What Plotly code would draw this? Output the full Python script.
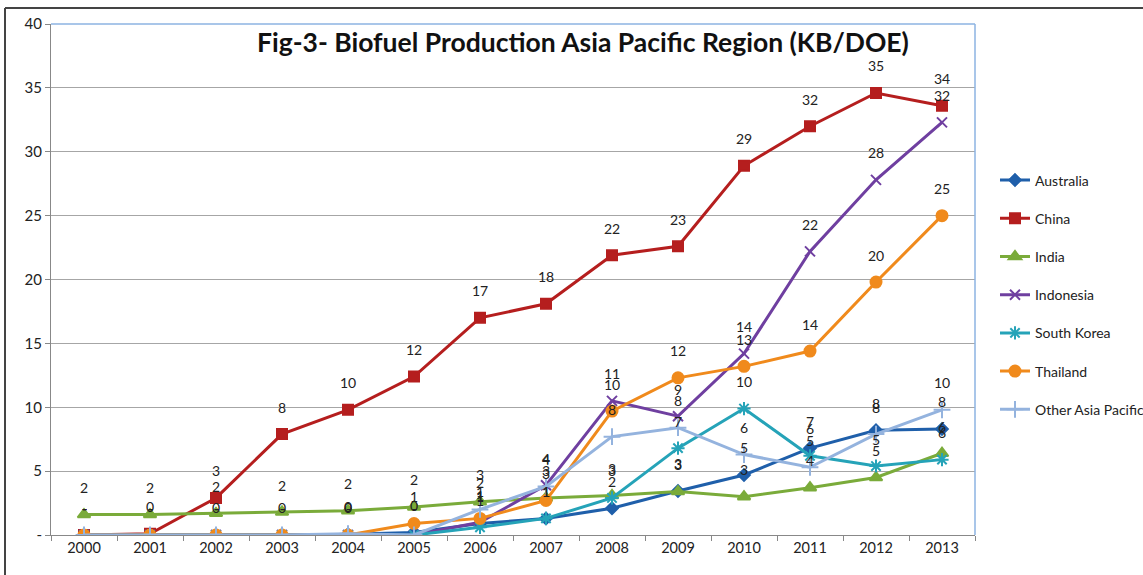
import math
import plotly.graph_objects as go

years = [str(y) for y in range(2000, 2014)]

australia = [0, 0, 0.02, 0.02, 0.05, 0.2, 0.9, 1.3, 2.1, 3.45, 4.7, 6.8, 8.2, 8.3]
china = [0, 0.1, 2.9, 7.9, 9.8, 12.4, 17.0, 18.1, 21.9, 22.6, 28.9, 32.0, 34.6, 33.6]
india = [1.6, 1.6, 1.7, 1.8, 1.9, 2.2, 2.6, 2.9, 3.1, 3.4, 3.0, 3.7, 4.5, 6.4]
indonesia = [0, 0, 0, 0, 0, 0, 1.0, 3.9, 10.5, 9.3, 14.2, 22.2, 27.8, 32.3]
south_korea = [0, 0, 0, 0, 0, 0, 0.6, 1.3, 2.9, 6.8, 9.9, 6.2, 5.4, 5.9]
thailand = [0, 0, 0, 0, 0, 0.9, 1.3, 2.7, 9.7, 12.3, 13.2, 14.4, 19.8, 25.0]
other_asia = [0, 0, 0, 0, 0.1, 0, 2.0, 3.8, 7.7, 8.4, 6.3, 5.3, 7.9, 9.8]

series = [
    ("Australia", australia, "#1F5FAA", "diamond", 9),
    ("China", china, "#B51E1E", "square", 10),
    ("India", india, "#7AAB3A", "triangle-up", 11),
    ("Indonesia", indonesia, "#6F3FA0", "x-thin-open", 10),
    ("South Korea", south_korea, "#25A3B8", "asterisk-open", 11),
    ("Thailand", thailand, "#F08A1C", "circle", 11),
    ("Other Asia Pacific", other_asia, "#94B3DE", "cross-thin-open", 12),
]

y_ticks = [0, 5, 10, 15, 20, 25, 30, 35, 40]
y_tick_labels = ["-", "5", "10", "15", "20", "25", "30", "35", "40"]

title_text = "Fig-3- Biofuel Production Asia Pacific Region (KB/DOE)"
FONT = "Lato"


def fmt(v):
    if v == 0:
        return "-"
    return str(int(math.floor(v + 0.5)))


fig = go.Figure()
annotations = []
for name, vals, color, sym, size in series:
    fig.add_trace(go.Scatter(
        x=years, y=vals, name=name, mode="lines+markers",
        line=dict(color=color, width=3),
        marker=dict(symbol=sym, size=size, color=color,
                    line=dict(color=color, width=2)),
        legendgroup=name,
    ))
    for idx, v in enumerate(vals):
        annotations.append(dict(
            x=idx, y=v, xref="x", yref="y", text=fmt(v), showarrow=False, yshift=27,
            font=dict(family=FONT, size=14, color="#222222"),
        ))

annotations.append(dict(
    x=0.576, y=1.0, xref="paper", yref="paper", text="<b>" + title_text + "</b>",
    showarrow=False, xanchor="center", yanchor="top",
    font=dict(family=FONT, size=26.5, color="#111111"),
))

fig.update_layout(
    width=1143, height=575,
    margin=dict(l=51, r=168, t=24, b=40, autoexpand=False),
    paper_bgcolor="white", plot_bgcolor="white",
    annotations=annotations,
    showlegend=True,
    legend=dict(xref="container", x=995 / 1143, xanchor="left",
                yref="container", y=1 - 295 / 575, yanchor="middle",
                font=dict(family=FONT, size=14, color="#222222"),
                tracegroupgap=17, itemwidth=30, bgcolor="rgba(0,0,0,0)"),
    xaxis=dict(type="category", tickson="boundaries", ticks="outside", ticklen=5,
               tickcolor="#888888", showgrid=False, showline=True,
               linecolor="#888888", linewidth=1,
               tickfont=dict(family=FONT, size=14.5, color="#222222"),
               range=[-0.5, 13.5]),
    yaxis=dict(range=[0, 40], tickvals=y_ticks, ticktext=y_tick_labels,
               ticks="outside", ticklen=5, tickcolor="#888888",
               showgrid=True, gridcolor="#A6A6A6", gridwidth=1,
               showline=True, linecolor="#888888", linewidth=1, zeroline=False,
               tickfont=dict(family=FONT, size=15, color="#222222")),
    shapes=[
        dict(type="line", xref="paper", yref="paper", x0=0, x1=1, y0=1, y1=1,
             line=dict(color="#8DB3E2", width=1.5)),
        dict(type="line", xref="paper", yref="paper", x0=1, x1=1, y0=0, y1=1,
             line=dict(color="#8DB3E2", width=1.5)),
        dict(type="line", xref="paper", yref="paper", x0=-46 / 924, x1=1.2,
             y0=1 + 16 / 511, y1=1 + 16 / 511, line=dict(color="#444444", width=2)),
        dict(type="line", xref="paper", yref="paper", x0=-46 / 924, x1=-46 / 924,
             y0=-0.2, y1=1 + 16 / 511, line=dict(color="#444444", width=2)),
    ],
)

fig.write_html("out.html")
